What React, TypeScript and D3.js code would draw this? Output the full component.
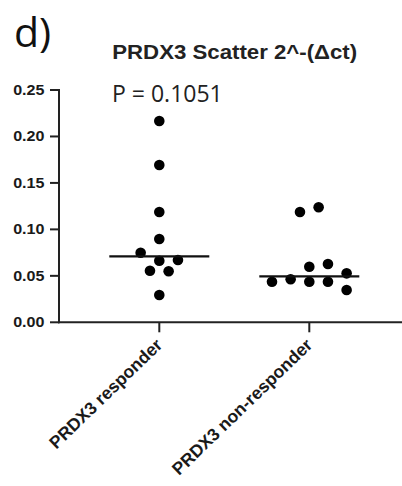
import React, { useEffect } from "react";
import * as d3 from "d3";

// values
const groups = ["PRDX3 responder", "PRDX3 non-responder"];
const responderValues = [0.2166, 0.1693, 0.1187, 0.0896, 0.0749, 0.0663, 0.067, 0.0555, 0.0549, 0.0294];
const responderSlots = [0, 0, 0, 0, -2, 0, 2, -1, 1, 0];
const nonResponderValues = [0.1187, 0.1238, 0.0598, 0.0627, 0.0527, 0.0437, 0.0463, 0.0437, 0.0437, 0.0348];
const nonResponderSlots = [-1, 1, 0, 2, 4, -4, -2, 0, 2, 4];
const yTicks = [0, 0.05, 0.1, 0.15, 0.2, 0.25];

const width = 402;
const height = 486;
const axisLeftX = 59;
const axisRightX = 402;
const slotWidth = 9.33;
const medianHalf = 50;

const boldFont = "'Liberation Sans', Arial, sans-serif";
const plainFont = "'Open Sans', 'Noto Sans', sans-serif";

export default function App() {
  useEffect(() => {
    document.body.style.margin = "0";
  }, []);

  const y = d3.scaleLinear().domain([0, 0.25]).range([322.3, 90]);
  const x = d3.scalePoint<string>().domain(groups).range([159.3, 309.3]);
  const fmt = d3.format(".2f");

  const series = [
    { name: groups[0], values: responderValues, slots: responderSlots },
    { name: groups[1], values: nonResponderValues, slots: nonResponderSlots },
  ];

  const y0 = y(0);

  return (
    <svg width={width} height={height} style={{ display: "block", background: "#fff" }}>
      <text x={14} y={46.7} fontFamily={plainFont} fontSize={41} fill="#111">
        d)
      </text>
      <g transform={`translate(234.7,59) scale(1.14,1)`}>
        <text textAnchor="middle" fontFamily={boldFont} fontWeight="bold" fontSize={19.5} fill="#222">
          PRDX3 Scatter 2^-(Δct)
        </text>
      </g>
      <text x={112} y={101.7} fontFamily={plainFont} fontSize={23} fill="#222">
        P = 0.1051
      </text>

      {/* y axis */}
      <line x1={axisLeftX} x2={axisLeftX} y1={y(0.25) - 1} y2={y0 + 1} stroke="#222" strokeWidth={2} />
      {yTicks.map((t) => (
        <g key={t}>
          <line x1={axisLeftX - 9} x2={axisLeftX} y1={y(t)} y2={y(t)} stroke="#222" strokeWidth={2} />
          <g transform={`translate(44.5,${y(t) + 5}) scale(1.15,1)`}>
            <text textAnchor="end" fontFamily={boldFont} fontWeight="bold" fontSize={14} fill="#1a1a1a">
              {fmt(t)}
            </text>
          </g>
        </g>
      ))}

      {/* x axis */}
      <line x1={axisLeftX - 1} x2={axisRightX} y1={y0} y2={y0} stroke="#222" strokeWidth={2} />
      {groups.map((g) => (
        <g key={g}>
          <line x1={x(g)} x2={x(g)} y1={y0} y2={y0 + 10} stroke="#222" strokeWidth={2} />
          <text
            transform={`translate(${(x(g) as number) + 4},${y0 + 24}) rotate(-44)`}
            textAnchor="end"
            fontFamily={boldFont}
            fontWeight="bold"
            fontSize={17.5}
            fill="#1a1a1a"
          >
            {g}
          </text>
        </g>
      ))}

      {/* points and medians */}
      {series.map((s) => {
        const cx = x(s.name) as number;
        const med = d3.median(s.values) as number;
        return (
          <g key={s.name}>
            {s.values.map((v, i) => (
              <circle key={i} cx={cx + s.slots[i] * slotWidth} cy={y(v)} r={5.3} fill="#000" />
            ))}
            <line
              x1={cx - medianHalf}
              x2={cx + medianHalf}
              y1={y(med)}
              y2={y(med)}
              stroke="#111"
              strokeWidth={2.2}
            />
          </g>
        );
      })}
    </svg>
  );
}
